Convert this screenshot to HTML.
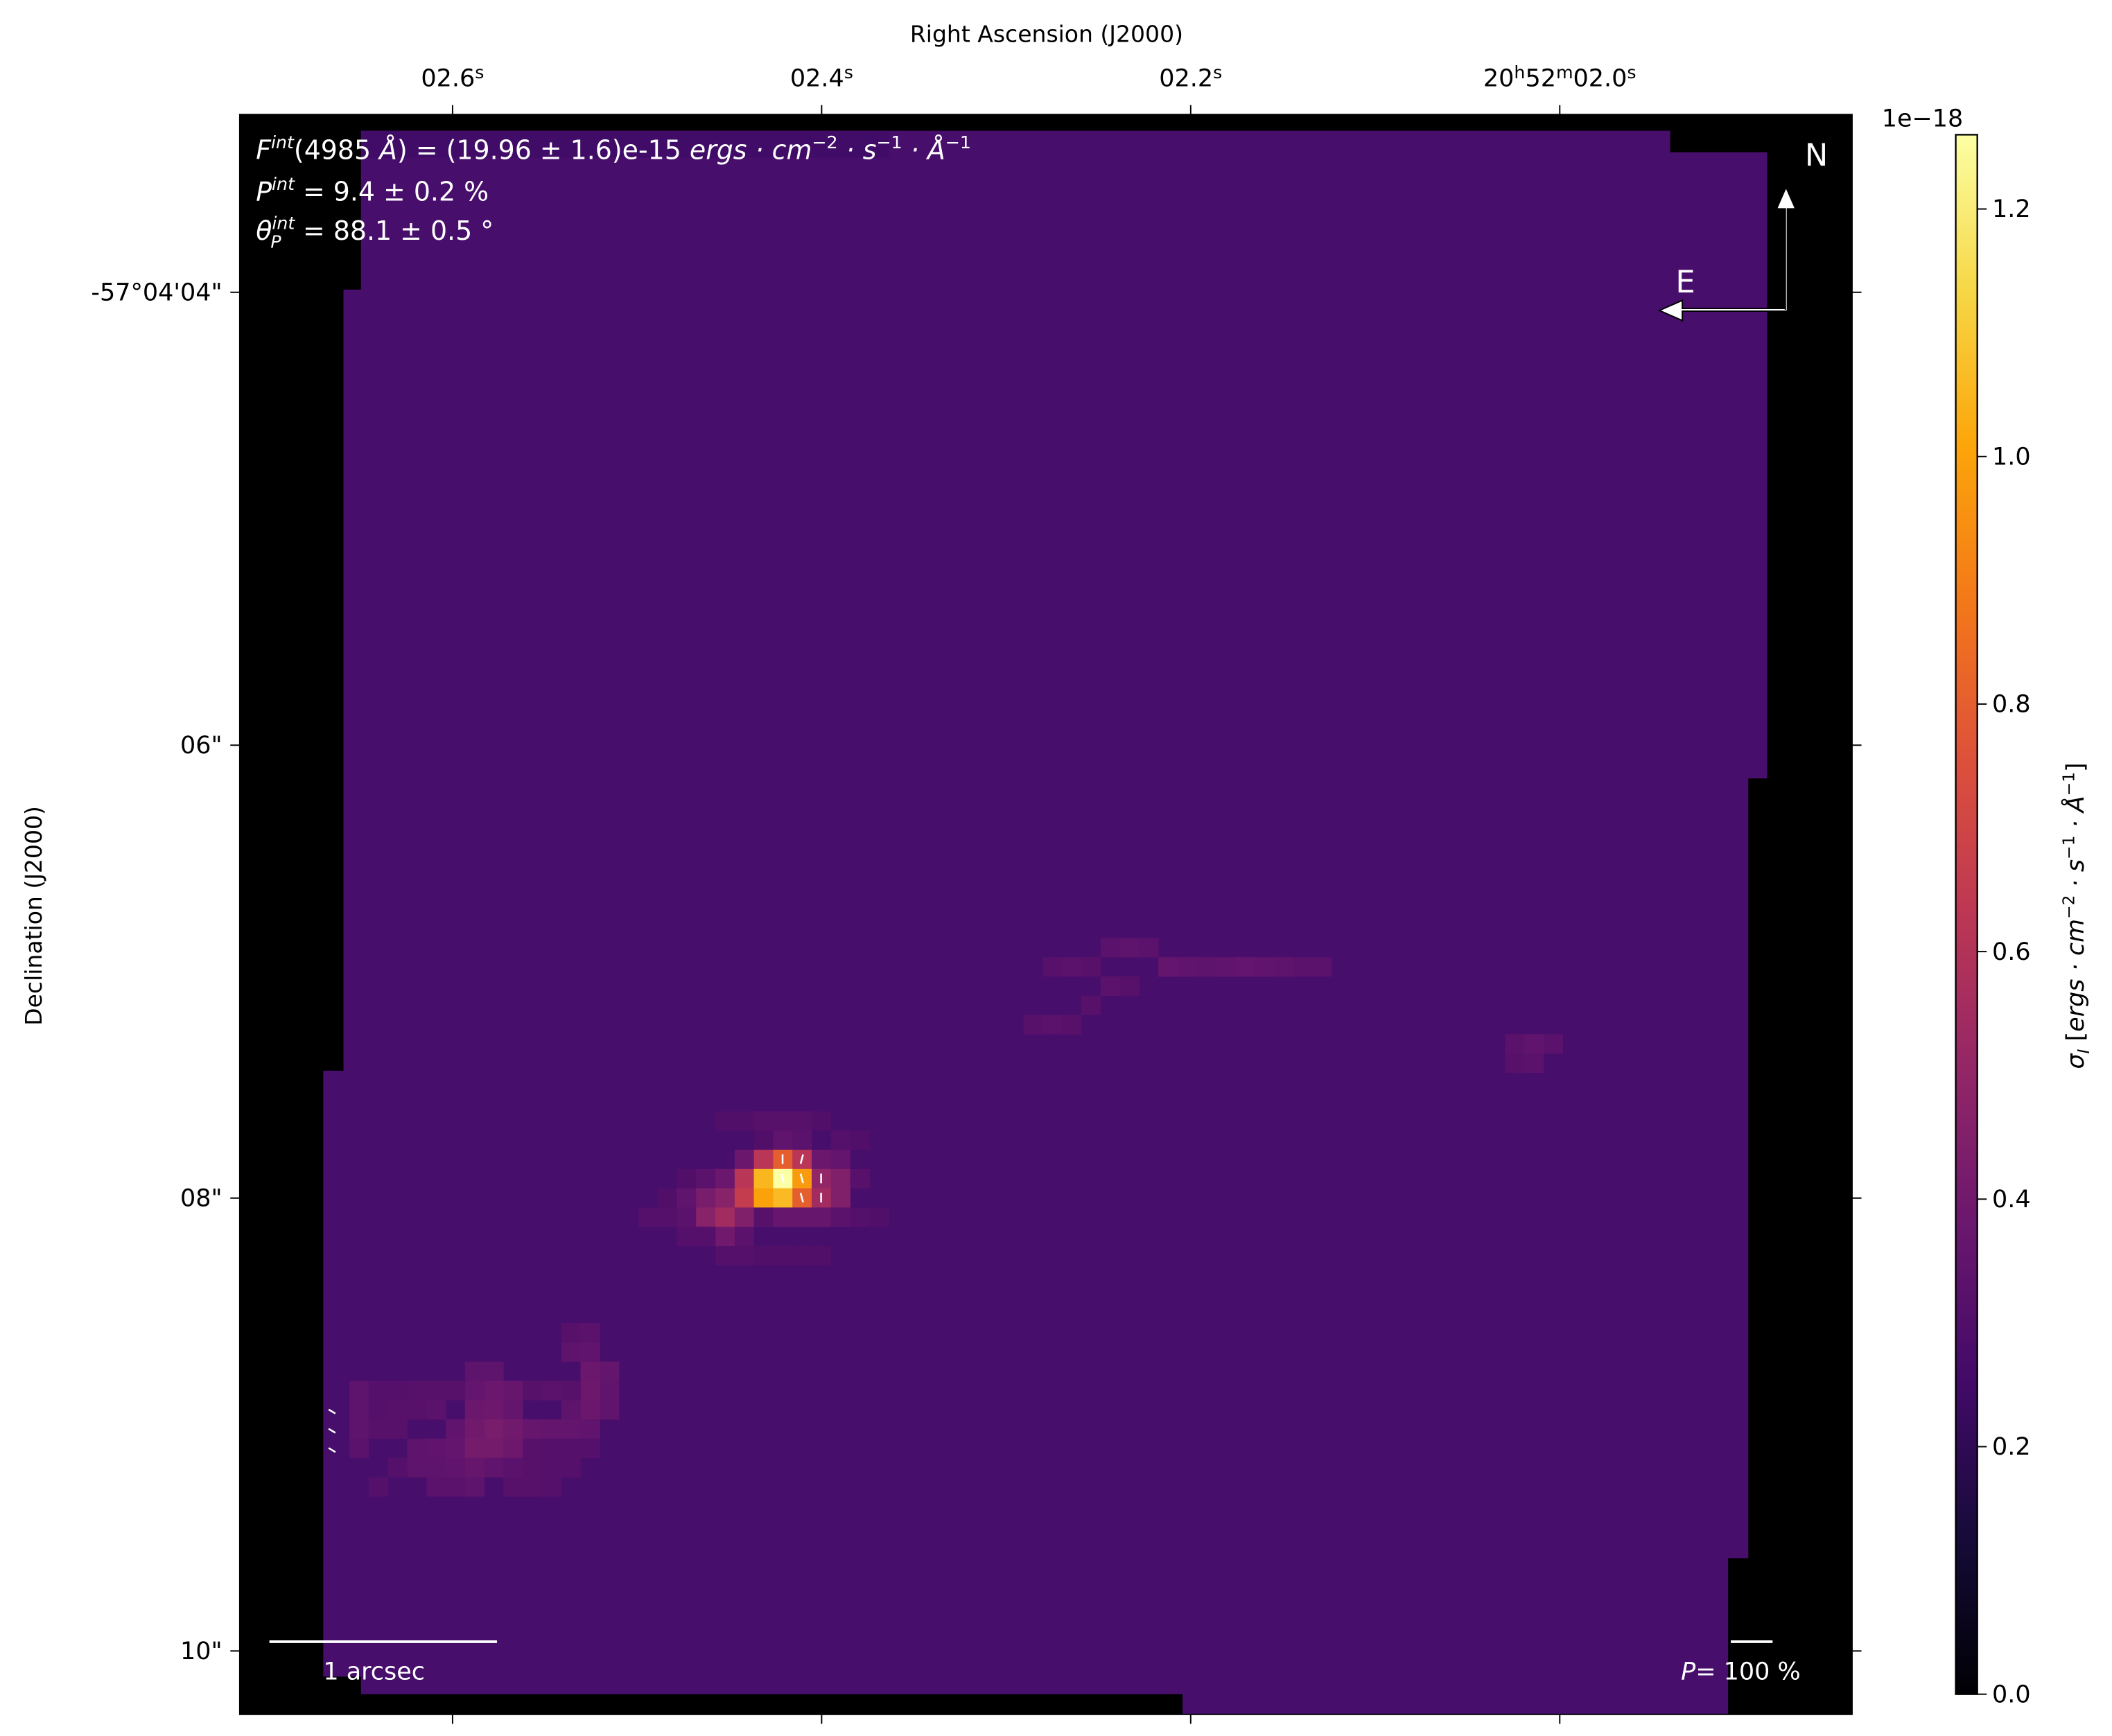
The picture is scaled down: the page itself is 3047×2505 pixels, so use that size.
<!DOCTYPE html>
<html><head><meta charset="utf-8"><style>
html,body{margin:0;padding:0;background:#fff}
svg{display:block}
text{font-family:"DejaVu Sans","Liberation Sans",sans-serif;}
</style></head><body>
<svg id="fig" width="3047" height="2505" viewBox="0 0 1568 1289" xmlns="http://www.w3.org/2000/svg">
<defs>
<linearGradient id="cbgrad" x1="0" y1="1" x2="0" y2="0">
<stop offset="0" stop-color="#000004"/><stop offset="0.1" stop-color="#160b39"/><stop offset="0.2" stop-color="#420a68"/><stop offset="0.3" stop-color="#6a176e"/><stop offset="0.4" stop-color="#932667"/><stop offset="0.5" stop-color="#bc3754"/><stop offset="0.6" stop-color="#dd513a"/><stop offset="0.7" stop-color="#f37819"/><stop offset="0.8" stop-color="#fca50a"/><stop offset="0.9" stop-color="#f6d746"/><stop offset="1" stop-color="#fcffa4"/>
</linearGradient>
<clipPath id="axclip"><rect x="178" y="85" width="1197" height="1188"/></clipPath>
</defs>
<rect x="178" y="85" width="1197" height="1188" fill="#000"/>
<g id="img" clip-path="url(#axclip)">
<polygon id="footprint" fill="#470e6c"
 points="268,97 1240,97 1240,113 1312,113 1312,578 1298,578 1298,1157 1283,1157 1283,1273 878,1273 878,1258 268,1258 268,1245 240,1245 240,795 255,795 255,215 268,215"/>
<rect x="268" y="97" width="392" height="20" fill="#400c67"/>
<g id="cells"></g>
<g id="vectors"></g>
</g>
<rect x="178" y="85" width="1197" height="1188" fill="none" stroke="#000" stroke-width="1"/>
<g id="ticks"></g>
<text x="777" y="31" font-size="17" text-anchor="middle">Right Ascension (J2000)</text>
<text transform="translate(31,680) rotate(-90)" font-size="17" text-anchor="middle">Declination (J2000)</text>
<g fill="#fff" font-size="19.5">
<text x="190" y="118"><tspan font-style="italic">F</tspan><tspan font-size="13" dy="-8" font-style="italic">int</tspan><tspan dy="8">(4985 </tspan><tspan font-style="italic">Å</tspan>) = (19.96 ± 1.6)e-15 <tspan font-style="italic">ergs · cm</tspan><tspan font-size="13" dy="-8">−2</tspan><tspan dy="8" font-style="italic"> · s</tspan><tspan font-size="13" dy="-8">−1</tspan><tspan dy="8" font-style="italic"> · Å</tspan><tspan font-size="13" dy="-8">−1</tspan></text>
<text x="190" y="149"><tspan font-style="italic">P</tspan><tspan font-size="13" dy="-8" font-style="italic">int</tspan><tspan dy="8"> = 9.4 ± 0.2 %</tspan></text>
<text x="190" y="178"><tspan font-style="italic">θ</tspan><tspan font-size="13" dy="-8" font-style="italic">int</tspan><tspan font-size="13" dx="-18" dy="14" font-style="italic">P</tspan><tspan dx="10" dy="-6"> = 88.1 ± 0.5 °</tspan></text>
</g>
<g>
<line x1="200" y1="1219" x2="369" y2="1219" stroke="#fff" stroke-width="2"/>
<text x="240" y="1247" fill="#fff" font-size="18">1 arcsec</text>
</g>
<g>
<line x1="1285" y1="1219" x2="1316" y2="1219" stroke="#fff" stroke-width="2"/>
<text x="1248" y="1247" fill="#fff" font-size="18"><tspan font-style="italic">P</tspan>= 100 %</text>
</g>
<g stroke="#000" stroke-width="1">
<path d="M1325.5,230 L1325.5,155 L1319,155 L1326,139 L1333,155 L1327,155 L1327,231 L1249,231 L1249,238 L1232,230.5 L1249,223 L1249,229 L1325.5,229 Z" fill="#fff"/>
<text x="1340" y="123" fill="#fff" stroke="none" font-size="23">N</text>
<text x="1244" y="217" fill="#fff" stroke="none" font-size="23">E</text>
</g>
<rect x="1452" y="100" width="16" height="1158" fill="url(#cbgrad)" stroke="#000" stroke-width="1.2"/>
<g id="cbticks"></g>
<text x="1397" y="94" font-size="18">1e−18</text>
<text transform="translate(1547,680) rotate(-90)" font-size="18" text-anchor="middle"><tspan font-style="italic">σ</tspan><tspan font-size="12" dy="4" font-style="italic">I</tspan><tspan dy="-4"> [</tspan><tspan font-style="italic">ergs · cm</tspan><tspan font-size="12" dy="-7">−2</tspan><tspan dy="7" font-style="italic"> · s</tspan><tspan font-size="12" dy="-7">−1</tspan><tspan dy="7" font-style="italic"> · Å</tspan><tspan font-size="12" dy="-7">−1</tspan><tspan dy="7">]</tspan></text>
</svg>
<script>
// bright-cell data (grid column, grid row relative to peak, value in 1e-18)
const cellCols = [-1,0,1, -2,-1,0,1,2,3, -5,-4,-3,-2,-1,0,1,2,3,4, -6,-5,-4,-3,-2,-1,0,1,2,3, -5,-4,-3,-2,-1,0,1,2,3, -4,-3,-2,
 -16,-15,-10,-9, -22,-16,-15,-14,-10,-9, -22,-16,-15,-14,-11,-10,-9, -22,-17,-16,-15,-14,-13,-12,-11,-10, -22,-19,-18,-17,-16,-15,-14, -19,-18,-17,-16,-15, -18,-17,-16, -11,-10, -11,-10,
 -21,-20,-19,-18,-17,-13,-12,-11,-21,-20,-19,-18,-13,-12,-21,-20,-14,-13,-12,-11,-20,-21,-14,-13,-12,-11,-10,
 14,15,16,17,18, 17,18,19,20,21, 20,21,22,23,24,25,26,27,28, 13,14,15,16, 38,39,40, 38,39,
 -7,-6,-5,-4,-3,-2,4,5,-3,-2,-1,0,1,2,3,4,-1,0,1,2];
const cellRows = [-2,-2,-2, -1,-1,-1,-1,-1,-1, 0,0,0,0,0,0,0,0,0,0, 1,1,1,1,1,1,1,1,1,1, 2,2,2,2,2,2,2,2,2, 3,3,3,
 10,10,10,10, 11,11,11,11,11,11, 12,12,12,12,12,12,12, 13,13,13,13,13,13,13,13,13, 14,14,14,14,14,14,14, 15,15,15,15,15, 16,16,16, 9,9, 8,8,
 11,11,11,11,11,11,11,11,12,12,12,12,14,14,13,13,15,15,15,15,15,16,16,16,16,14,14,
 -11,-11,-11,-10,-10, -12,-12,-12,-11,-11, -11,-11,-11,-11,-11,-11,-11,-11,-11, -8,-8,-8,-9, -7,-7,-7, -6,-6,
 2,2,3,3,4,4,2,2,-3,-3,-3,-3,-3,-3,-2,-2,4,4,4,4];
const cellVals = [0.30,0.35,0.33, 0.38,0.62,0.80,0.62,0.38,0.36, 0.30,0.33,0.38,0.62,1.05,1.26,0.98,0.50,0.45,0.32, 0.30,0.35,0.42,0.47,0.66,1.00,1.06,0.80,0.55,0.45, 0.33,0.47,0.55,0.45,0.32,0.37,0.37,0.37,0.33, 0.38,0.40,0.33,
 0.34,0.34,0.38,0.36, 0.34,0.36,0.38,0.37,0.39,0.35, 0.34,0.38,0.39,0.36,0.34,0.38,0.35, 0.34,0.35,0.40,0.42,0.40,0.37,0.36,0.36,0.35, 0.33,0.34,0.35,0.36,0.41,0.41,0.39, 0.34,0.34,0.35,0.37,0.35, 0.33,0.33,0.34, 0.34,0.35, 0.32,0.33,
 0.31,0.31,0.32,0.32,0.32,0.32,0.33,0.32,0.31,0.32,0.32,0.33,0.32,0.31,0.32,0.32,0.33,0.32,0.31,0.31,0.31,0.31,0.32,0.32,0.31,0.31,0.31,
 0.32,0.33,0.32,0.33,0.32, 0.33,0.34,0.33,0.34,0.35, 0.36,0.35,0.34,0.35,0.36,0.35,0.34,0.33,0.33, 0.32,0.33,0.32,0.32, 0.33,0.35,0.33, 0.32,0.33,
 0.31,0.31,0.31,0.31,0.31,0.31,0.31,0.30,0.30,0.30,0.32,0.32,0.32,0.30,0.31,0.30,0.30,0.30,0.30,0.30];
// polarization vector data
const vecCols = [0,1,0,1,2,1,2];
const vecRows = [-1,-1,0,0,0,1,1];
const vecAngles = [0,-15,15,15,0,15,0];
const vecLens = [0.45,0.45,0.45,0.45,0.45,0.45,0.45];
const vecEdgeRows = [12,13,14];
// axis tick data
const raMain = ["02.6","02.4","02.2","20h52m02.0"];
const raIdx = [0,1,2,3];
const decLabels = ["-57°04'04\"","06\"","08\"","10\""];
const decIdx = [0,1,2,3];
const cbTicks = [0.0,0.2,0.4,0.6,0.8,1.0,1.2];
const vmax = 1.26;

const NS='http://www.w3.org/2000/svg';
const gx = c => 574 + c*14.3;
const gy = r => 868 + r*14.3;
const raX = i => 336 + i*274;
const decY = i => 217 + i*336.3;
const cbY = v => 1258 - v/vmax*1158;
const stops=[[0,4,0,4],[.1,22,11,57],[.2,66,10,104],[.3,106,23,110],[.4,147,38,103],[.5,188,55,84],[.6,221,81,58],[.7,243,120,25],[.8,252,165,10],[.9,246,215,70],[1,252,255,164]];
function inferno(t){t=Math.max(0,Math.min(1,t));for(let i=1;i<stops.length;i++){if(t<=stops[i][0]){const a=stops[i-1],b=stops[i],f=(t-a[0])/(b[0]-a[0]);return `rgb(${Math.round(a[1]+f*(b[1]-a[1]))},${Math.round(a[2]+f*(b[2]-a[2]))},${Math.round(a[3]+f*(b[3]-a[3]))})`;}}return 'rgb(252,255,164)';}
function mk(tag,attrs,parent){const e=document.createElementNS(NS,tag);for(const k in attrs)e.setAttribute(k,attrs[k]);parent.appendChild(e);return e;}

const cells=document.getElementById('cells');
for(let i=0;i<cellVals.length;i++){
 const r=mk('rect',{x:gx(cellCols[i]),y:gy(cellRows[i]),width:14.5,height:14.5,fill:inferno(cellVals[i]/vmax)},cells);
 
 
}
const vg=document.getElementById('vectors');
for(let i=0;i<vecCols.length;i++){
 const cx=gx(vecCols[i])+7, cy=gy(vecRows[i])+7, a=vecAngles[i]*Math.PI/180, L=vecLens[i]*8;
 const l=mk('line',{x1:cx-L*Math.sin(a),y1:cy-L*Math.cos(a),x2:cx+L*Math.sin(a),y2:cy+L*Math.cos(a),stroke:'#fff','stroke-width':1.3},vg);
 
 
}
for(let i=0;i<vecEdgeRows.length;i++){
 const cy=gy(vecEdgeRows[i])+9;
 const l=mk('line',{x1:244,y1:cy-2,x2:249,y2:cy+1,stroke:'#fff','stroke-width':1.3},vg);
 
 
}
function raText(parent,x,s){
 const tx=mk('text',{x:x,y:64,'font-size':18,'text-anchor':'middle'},parent);
 const m=s.match(/^(\d+)h(\d+)m(.*)$/);
 const parts = m ? [[m[1],0],['h',1],[m[2],0],['m',1],[m[3],0],['s',1]] : [[s,0],['s',1]];
 let up=false;
 for(const p of parts){
  const ts=document.createElementNS(NS,'tspan');
  ts.textContent=p[0];
  if(p[1]){ts.setAttribute('font-size','13');ts.setAttribute('dy',up?'0':'-6');up=true;}
  else {if(up){ts.setAttribute('dy','6');}up=false;}
  tx.appendChild(ts);
 }
 return tx;
}
const tg=document.getElementById('ticks');
for(const i of raIdx){
 const x=raX(i);
 const t1=mk('line',{x1:x,y1:85,x2:x,y2:78,stroke:'#000','stroke-width':1},tg);
 
 
 const t2=mk('line',{x1:x,y1:1273,x2:x,y2:1280,stroke:'#000','stroke-width':1},tg);
 
 
 const tx=raText(tg,x,raMain[i]);
 
 
}
for(const i of decIdx){
 const y=decY(i);
 const t1=mk('line',{x1:178,y1:y,x2:171,y2:y,stroke:'#000','stroke-width':1},tg);
 
 
 const t2=mk('line',{x1:1375,y1:y,x2:1382,y2:y,stroke:'#000','stroke-width':1},tg);
 
 
 const tx=mk('text',{x:165,y:y+6,'font-size':18,'text-anchor':'end'},tg);
 tx.textContent=decLabels[i];
 
 
}
const cg=document.getElementById('cbticks');
for(const v of cbTicks){
 const y=cbY(v);
 const t=mk('line',{x1:1468,y1:y,x2:1475,y2:y,stroke:'#000','stroke-width':1},cg);
 
 
 const tx=mk('text',{x:1479,y:y+6,'font-size':18},cg);
 tx.textContent=v.toFixed(1);
 
 
}
</script>
</body></html>
